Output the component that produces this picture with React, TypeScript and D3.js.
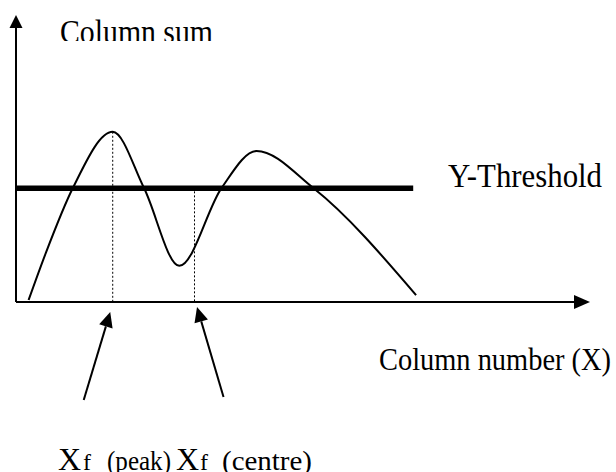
import React from "react";
import * as d3 from "d3";

// ---- data (schematic column-sum profile) ----
const columns = [2.2, 5.2, 9.9, 16.85, 22.3, 28.45, 35.8, 41.9, 51.8, 69.7];
const sums = [0.7, 17.1, 39.7, 59.3, 39.7, 12.6, 39.7, 52.6, 39.7, 2.4];
const thresholdValue = [39.6];
const thresholdExtent = [0, 69.2];
const xfPeak = [16.85];
const xfCentre = [31.1];
const labels = ["Column sum", "Y-Threshold", "Column number (X)"];

const W = 616;
const H = 472;

export default function App() {
  const x = d3.scaleLinear().domain([0, 100]).range([16, 590]);
  const y = d3.scaleLinear().domain([0, 100]).range([302, 15]);

  const pts: [number, number][] = columns.map((c, i) => [c, sums[i]]);
  const line = d3
    .line<[number, number]>()
    .x((d) => x(d[0]))
    .y((d) => y(d[1]))
    .curve(d3.curveMonotoneX);

  const x0 = x(0);
  const y0 = y(0);
  const yTop = y(100);
  const xEnd = x(100);
  const thr = y(thresholdValue[0]);
  const peakIdx = sums.indexOf(d3.max(sums) as number);

  const font = "'Liberation Serif', 'Times New Roman', serif";

  const arrow = (tipX: number, tipY: number, tailX: number, tailY: number, key: string) => {
    const dx = tipX - tailX;
    const dy = tipY - tailY;
    const len = Math.hypot(dx, dy);
    const ux = dx / len;
    const uy = dy / len;
    const hl = 15;
    const hw = 7;
    const bx = tipX - ux * hl;
    const by = tipY - uy * hl;
    const p1 = [bx - uy * hw, by + ux * hw];
    const p2 = [bx + uy * hw, by - ux * hw];
    return (
      <g key={key}>
        <line x1={tailX} y1={tailY} x2={bx} y2={by} stroke="#000" strokeWidth={2} />
        <polygon points={`${tipX},${tipY} ${p1[0]},${p1[1]} ${p2[0]},${p2[1]}`} fill="#000" />
      </g>
    );
  };

  return (
    <svg
      width={W}
      height={H}
      style={{ position: "absolute", left: 0, top: 0, background: "#fff" }}
    >
      <defs>
        <clipPath id="topClip">
          <rect x={0} y={0} width={W} height={41} />
        </clipPath>
      </defs>
      <rect x={0} y={0} width={W} height={H} fill="#fff" />

      {/* Y axis */}
      <line x1={x0} y1={y0} x2={x0} y2={yTop + 12} stroke="#000" strokeWidth={2} />
      <polygon points={`${x0},${yTop} ${x0 - 6.5},${yTop + 13} ${x0 + 6.5},${yTop + 13}`} fill="#000" />

      {/* X axis */}
      <line x1={x0} y1={y0} x2={xEnd - 14} y2={y0} stroke="#000" strokeWidth={2} />
      <polygon points={`${xEnd},${y0} ${xEnd - 16},${y0 - 7} ${xEnd - 16},${y0 + 7}`} fill="#000" />

      {/* threshold */}
      <line
        x1={x(thresholdExtent[0])}
        y1={thr}
        x2={x(thresholdExtent[1])}
        y2={thr}
        stroke="#000"
        strokeWidth={5.5}
      />

      {/* dotted guides */}
      <line
        x1={x(xfPeak[0])}
        y1={y(sums[peakIdx])}
        x2={x(xfPeak[0])}
        y2={y0}
        stroke="#000"
        strokeWidth={1}
        strokeDasharray="2,2"
      />
      <line
        x1={x(xfCentre[0])}
        y1={thr + 3}
        x2={x(xfCentre[0])}
        y2={y0}
        stroke="#000"
        strokeWidth={1}
        strokeDasharray="2,2"
      />

      {/* curve */}
      <path d={line(pts) || ""} fill="none" stroke="#000" strokeWidth={2} />

      {/* pointer arrows */}
      {arrow(x(xfPeak[0]) - 2.5, y0 + 10, x(xfPeak[0]) - 29, y0 + 98, "a1")}
      {arrow(x(xfCentre[0]) + 2.5, y0 + 5, x(xfCentre[0]) + 29, y0 + 95, "a2")}

      {/* labels */}
      <g clipPath="url(#topClip)">
        <text x={60} y={43} fontFamily={font} fontSize={34} textLength={153} lengthAdjust="spacingAndGlyphs">
          {labels[0]}
        </text>
      </g>
      <text x={448} y={187} fontFamily={font} fontSize={33} textLength={154} lengthAdjust="spacingAndGlyphs">
        {labels[1]}
      </text>
      <text x={379} y={370} fontFamily={font} fontSize={32} textLength={232} lengthAdjust="spacingAndGlyphs">
        {labels[2]}
      </text>

      <text x={58} y={470} fontFamily={font} fontSize={32}>X</text>
      <text x={83} y={470} fontFamily={font} fontSize={24}>f</text>
      <text x={107} y={470} fontFamily={font} fontSize={27} textLength={64} lengthAdjust="spacingAndGlyphs">(peak)</text>
      <text x={176} y={470} fontFamily={font} fontSize={32}>X</text>
      <text x={200} y={470} fontFamily={font} fontSize={24}>f</text>
      <text x={222} y={470} fontFamily={font} fontSize={27} textLength={90} lengthAdjust="spacingAndGlyphs">(centre)</text>
    </svg>
  );
}
